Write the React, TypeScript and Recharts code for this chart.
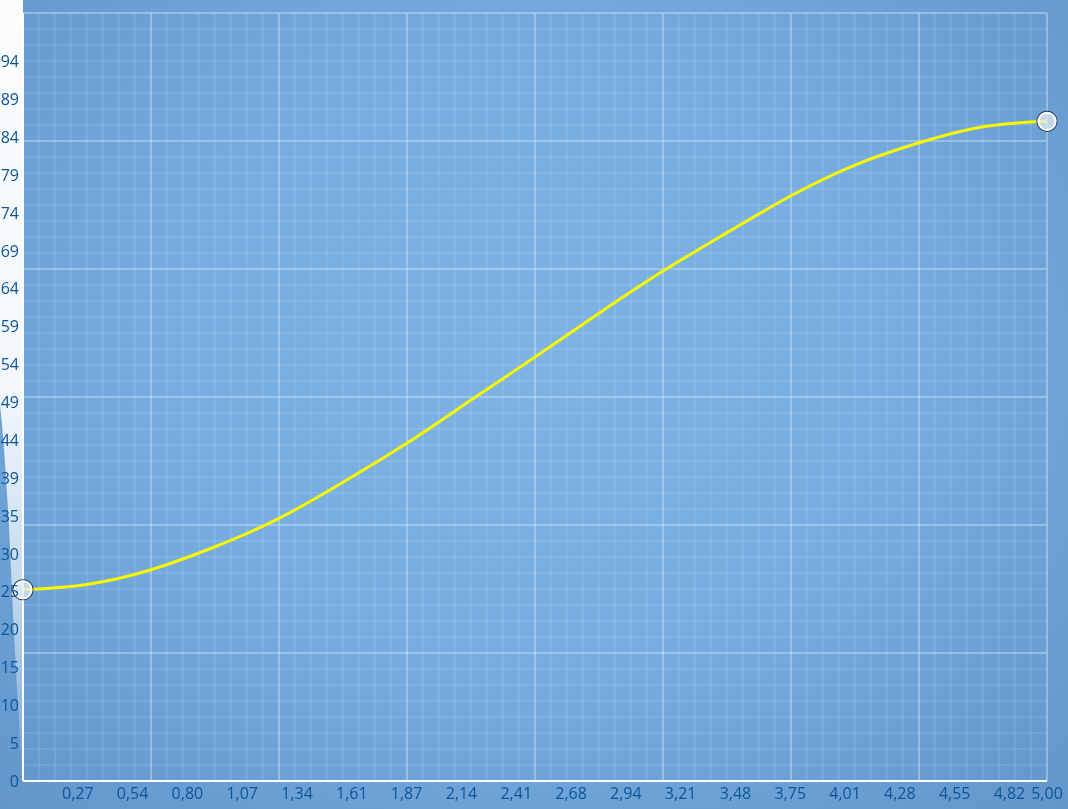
import React from "react";
import { LineChart, Line, XAxis, YAxis, ReferenceLine } from "recharts";

const xValues = [0, 0.3125, 0.625, 0.9375, 1.25, 1.5625, 1.875, 2.1875, 2.5, 2.8125, 3.125, 3.4375, 3.75, 4.0625, 4.375, 4.6875, 5];
const yValues = [24.9, 25.6, 27.5, 30.5, 34.2, 38.9, 44.0, 49.6, 55.2, 60.9, 66.4, 71.4, 76.2, 80.2, 83.1, 85.2, 85.9];

const xTickValues = [0.2676, 0.5352, 0.8028, 1.0704, 1.338, 1.6056, 1.8732, 2.1408, 2.4084, 2.676, 2.9436, 3.2112, 3.4788, 3.7464, 4.014, 4.2816, 4.5492, 4.8168, 5];
const xTickLabels = ["0,27", "0,54", "0,80", "1,07", "1,34", "1,61", "1,87", "2,14", "2,41", "2,68", "2,94", "3,21", "3,48", "3,75", "4,01", "4,28", "4,55", "4,82", "5,00"];

const yTickValues = [0, 4.93, 9.86, 14.79, 19.72, 24.65, 29.58, 34.51, 39.44, 44.37, 49.3, 54.23, 59.16, 64.09, 69.02, 73.95, 78.88, 83.81, 88.74, 93.67];
const yTickLabels = ["0", "5", "10", "15", "20", "25", "30", "35", "39", "44", "49", "54", "59", "64", "69", "74", "79", "84", "89", "94"];

const X_MAX = 5;
const Y_MAX = 100;
const X_MAJOR = 8;
const Y_MAJOR = 6;
const MINOR_PER_MAJOR = 8;

const data = xValues.map((x, i) => ({ x, y: yValues[i] }));

const xMinor: number[] = [];
for (let i = 0; i <= X_MAJOR * MINOR_PER_MAJOR; i++) xMinor.push((X_MAX * i) / (X_MAJOR * MINOR_PER_MAJOR));
const yMinor: number[] = [];
for (let i = 0; i <= Y_MAJOR * MINOR_PER_MAJOR; i++) yMinor.push((Y_MAX * i) / (Y_MAJOR * MINOR_PER_MAJOR));

const FONT = "'Open Sans', 'Noto Sans', sans-serif";
const LABEL_COLOR = "#0d5598";

const EndDot = (props: any) => {
  const { cx, cy, index } = props;
  if (index !== 0 && index !== data.length - 1) return <g key={`d${index}`} />;
  return (
    <g key={`d${index}`}>
      <circle cx={cx} cy={cy} r={10} fill="none" stroke="#2a3b52" strokeWidth={1.2} />
      <circle cx={cx} cy={cy} r={8.6} fill="#e4ecf4" fillOpacity={0.72} stroke="#ffffff" strokeWidth={2} />
    </g>
  );
};

export default function App() {
  return (
    <div style={{ position: "fixed", left: 0, top: 0, width: 1068, height: 809, overflow: "hidden" }}>
      <div
        style={{
          position: "absolute",
          inset: 0,
          background: "radial-gradient(ellipse 75% 80% at 50% 45%, #7db4e4 0%, #77ade0 45%, #6a9fd3 75%, #6194c9 100%)",
        }}
      />
      <svg width={1068} height={809} style={{ position: "absolute", left: 0, top: 0 }}>
        <defs>
          <linearGradient id="gloss" x1="0" y1="0" x2="0" y2="1">
            <stop offset="0%" stopColor="#ffffff" stopOpacity={0.97} />
            <stop offset="50%" stopColor="#ffffff" stopOpacity={0.92} />
            <stop offset="75%" stopColor="#ffffff" stopOpacity={0.6} />
            <stop offset="100%" stopColor="#ffffff" stopOpacity={0.1} />
          </linearGradient>
        </defs>
        <path d="M0,0 L23,0 L23,780 C 20,740 15,660 11,570 C 8,500 4,440 0,405 Z" fill="url(#gloss)" />
      </svg>
      <div style={{ position: "absolute", left: 0, top: 0 }}>
        <LineChart width={1068} height={809} data={data} margin={{ top: 13, right: 21, left: 0, bottom: 0 }}>
          <XAxis
            dataKey="x"
            type="number"
            domain={[0, X_MAX]}
            ticks={xTickValues}
            interval={0}
            tickFormatter={(_v: number, i: number) => xTickLabels[i]}
            tickLine={false}
            tickSize={0}
            tickMargin={7}
            height={28}
            axisLine={{ stroke: "#ffffff", strokeWidth: 2 }}
            tick={{ fill: LABEL_COLOR, fontSize: 16, fontFamily: FONT }}
          />
          <YAxis
            type="number"
            domain={[0, Y_MAX]}
            ticks={yTickValues}
            interval={0}
            tickFormatter={(_v: number, i: number) => yTickLabels[i]}
            tickLine={false}
            tickSize={0}
            tickMargin={4}
            width={23}
            axisLine={{ stroke: "#ffffff", strokeWidth: 2 }}
            tick={{ fill: LABEL_COLOR, fontSize: 16, fontFamily: FONT }}
          />
          {xMinor.map((v, i) => (
            <ReferenceLine
              key={`vx${i}`}
              x={v}
              stroke={i % MINOR_PER_MAJOR === 0 ? "#d2e3f3" : "#ffffff"}
              strokeOpacity={i % MINOR_PER_MAJOR === 0 ? 0.85 : 0.18}
              strokeWidth={1}
              ifOverflow="visible"
            />
          ))}
          {yMinor.map((v, i) => (
            <ReferenceLine
              key={`hy${i}`}
              y={v}
              stroke={i % MINOR_PER_MAJOR === 0 ? "#d2e3f3" : "#ffffff"}
              strokeOpacity={i % MINOR_PER_MAJOR === 0 ? 0.85 : 0.18}
              strokeWidth={1}
              ifOverflow="visible"
            />
          ))}
          <Line
            type="natural"
            dataKey="y"
            stroke="#f7f700"
            strokeWidth={3}
            dot={EndDot}
            activeDot={false}
            isAnimationActive={false}
          />
        </LineChart>
      </div>
    </div>
  );
}
